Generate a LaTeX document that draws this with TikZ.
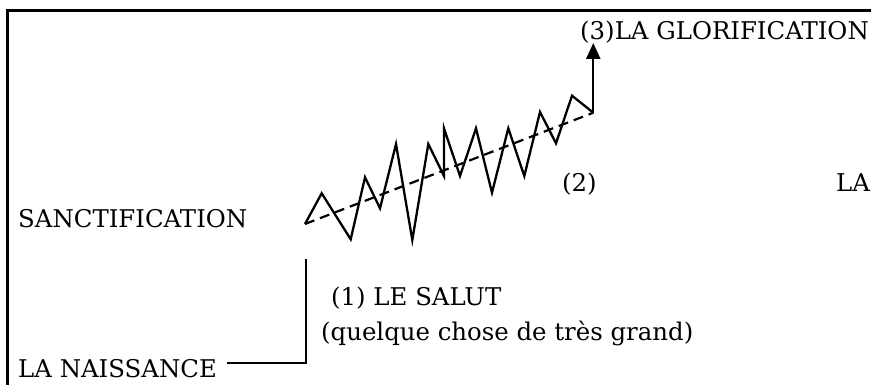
\documentclass[tikz,border=0pt]{standalone}
\usepackage{fontspec}
\setmainfont{DejaVu Serif}
\usetikzlibrary{arrows.meta}
\begin{document}
\begin{tikzpicture}[x=1pt,y=-1pt,
  lbl/.style={inner sep=0pt,anchor=base west,font=\fontsize{24.4}{28}\selectfont},
  frameline/.style={line width=2.6pt},
  zig/.style={line width=2.3pt,line join=miter},
  trend/.style={line width=2.2pt,dash pattern=on 10pt off 6pt},
  conn/.style={line width=2pt}]
\useasboundingbox (0,0) rectangle (871,385);
% frame
\coordinate (ftl) at (7.7,10.3);
\coordinate (ftr) at (871,10.3);
\coordinate (fbl) at (7.7,385);
\draw[frameline] (ftr) -- (ftl) -- (fbl);
% labels
\node[lbl] (sanct) at (18,228) {SANCTIFICATION};
\node[lbl] (naiss) at (18,377) {LA NAISSANCE};
\node[lbl] (salut) at (331,305) {(1) LE SALUT};
\node[lbl] (quelque) at (321,340) {(quelque chose de très grand)};
\node[lbl] (two) at (562,192) {(2)};
\node[lbl] (la) at (836,192) {LA};
\node[lbl] (glor) at (580,40) {(3)LA GLORIFICATION};
% L connector
\coordinate (corner) at (306,363);
\coordinate (top) at (306,259);
\path (naiss.east |- corner) ++(10,0) coordinate (nstart);
\draw[conn] (nstart) -- (corner) -- (top);
% zigzag
\coordinate (z0) at (305,224);
\coordinate (z1) at (321.7,193.3);
\coordinate (z2) at (350.7,239.3);
\coordinate (z3) at (365,177.3);
\coordinate (z4) at (380,208.3);
\coordinate (z5) at (396,144);
\coordinate (z6) at (412.3,240);
\coordinate (z7) at (428.3,144);
\coordinate (z8) at (444,176);
\coordinate (z9) at (444,128.3);
\coordinate (z10) at (460,176);
\coordinate (z11) at (476,128.3);
\coordinate (z12) at (492,192.7);
\coordinate (z13) at (508.3,128.3);
\coordinate (z14) at (524.3,176);
\coordinate (z15) at (540,112);
\coordinate (z16) at (556,143.3);
\coordinate (z17) at (572,95.7);
\coordinate (z18) at (593.3,112.7);
\coordinate (tip) at (593.3,43);
\draw[zig] (z0) -- (z1) -- (z2) -- (z3) -- (z4) -- (z5) -- (z6) -- (z7) -- (z8) -- (z9) -- (z10) -- (z11) -- (z12) -- (z13) -- (z14) -- (z15) -- (z16) -- (z17) -- (z18);
\draw[line width=2.3pt,-{Triangle[width=14pt,length=16pt]}] (z18) -- (tip);
\draw[trend] (z0) -- (z18);
\end{tikzpicture}
\end{document}
